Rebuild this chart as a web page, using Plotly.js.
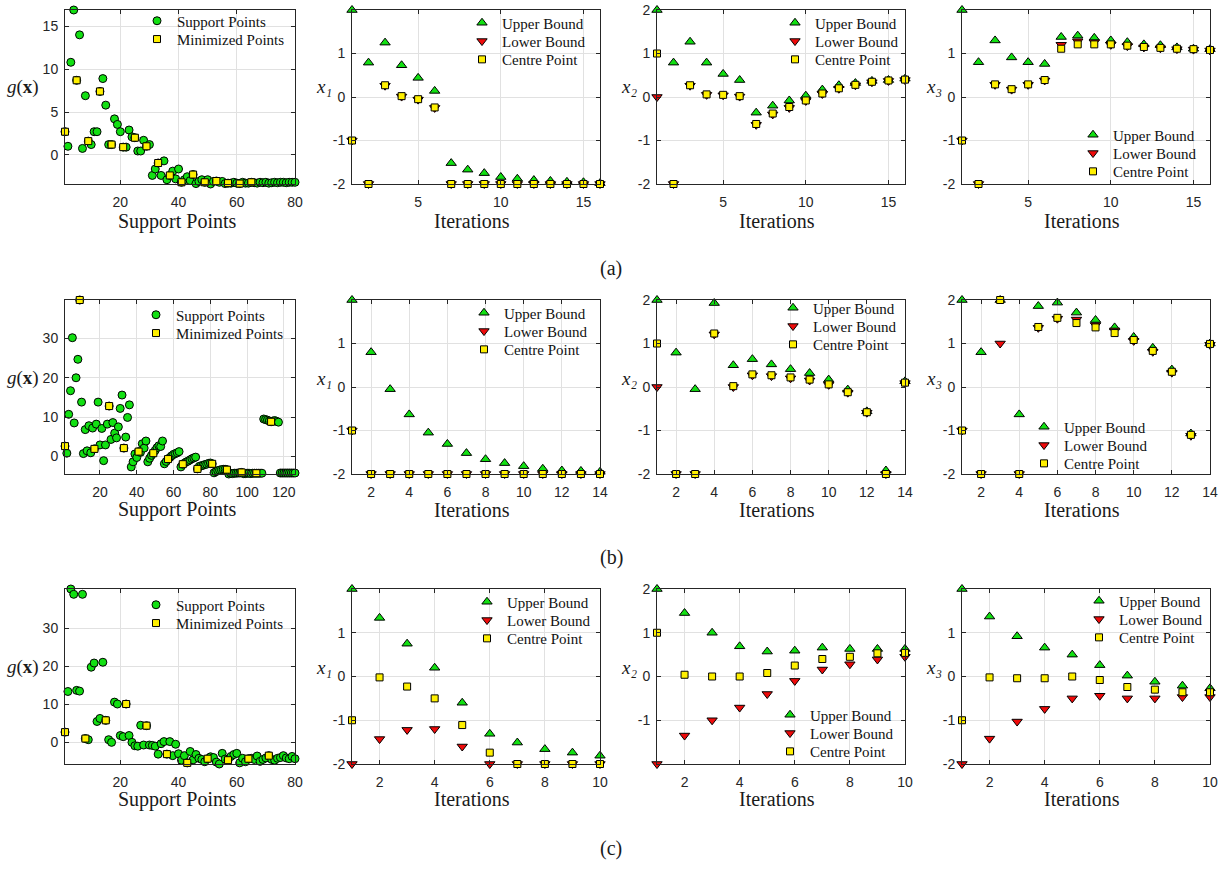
<!DOCTYPE html>
<html>
<head>
<meta charset="utf-8">
<script src="https://cdn.plot.ly/plotly-3.0.1.min.js"></script>
<style>
  html, body { margin: 0; padding: 0; background: #fff; }
  #chart { width: 1222px; height: 870px; }
</style>
</head>
<body>
<div id="chart"></div>
<script>
// ---------- (a) support points g(x) ----------
const supA = [
  2.7, 1.0, 10.8, 16.9, 8.7, 14.0, 0.75, 6.9, 1.6, 1.2,
  2.7, 2.7, 7.4, 8.9, 5.8, 1.2, 1.2, 4.2, 3.55, 2.7,
  0.9, 0.9, 2.9, 2.1, 2.0, 0.45, 0.45, 1.7, 1.0, 1.2,
  -2.4, -1.65, -0.95, -2.4, -0.7, -2.9, -2.4, -1.9, -2.8, -1.65,
  -3.2, -2.9, -2.55, -3.0, -2.3, -3.35, -3.1, -2.9, -3.2, -2.9,
  -3.4, -3.1, -3.05, -3.2, -3.1, -3.35, -3.3, -3.3, -3.2, -3.3,
  -3.35, -3.2, -3.3, -3.3, -3.2, -3.25, -3.3, -3.2, -3.25, -3.2,
  -3.3, -3.25, -3.2, -3.25, -3.2, -3.2, -3.25, -3.2, -3.2, -3.2
];
const minXA = [1, 5, 9, 13, 17, 21, 25, 29, 33, 37, 41, 45, 49, 53, 57, 61, 65];
const minYA = [2.7, 8.7, 1.6, 7.4, 1.2, 0.9, 2.0, 1.0, -0.95, -2.4, -3.2, -2.3, -3.2, -3.05, -3.3, -3.35, -3.2];

// ---------- (b) support points g(x) ----------
const supB = [
  2.6, 0.8, 10.7, 16.7, 30.2, 8.5, 20.0, 24.7, 39.8, 13.8,
  0.7, 6.8, 1.4, 7.8, 0.9, 7.2, 1.9, 8.2, 13.8, 2.9,
  7.1, -1.1, 2.9, 8.2, 12.8, 4.3, 8.6, 5.9, 4.7, 7.5,
  12.2, 15.6, 2.1, 4.9, 9.9, 13.1, -2.7, -1.4, 0.6, -0.3,
  1.2, 1.0, 3.2, 2.1, 3.9, -1.4, -0.5, 0.25, 0.8, 1.5,
  2.2, 2.7, 2.5, 3.9, -1.9, -1.3, -0.7, -0.3, 0.15, 0.5,
  0.7, 0.9, 1.2, -2.7, -2.0, -1.7, -1.4, -1.2, -0.9, -0.6,
  -0.4, -0.2, -3.2, -2.55, -2.4, -2.3, -2.1, -2.0, -1.8, -1.7,
  -1.9, -4.2, -3.9, -3.65, -3.5, -3.4, -3.3, -3.3, -3.4, -4.5,
  -4.3, -4.4, -4.3, -4.3, -4.25, -4.25, -4.1, -4.4, -4.4, -4.3,
  -4.3, -4.4, -4.3, -4.3, -4.3, -4.3, -4.3, -4.3, 9.5, 9.35,
  9.2, 9.0, 8.8, 9.0, 9.1, 8.9, 8.7, -4.25, -4.25, -4.25,
  -4.25, -4.25, -4.25, -4.25, -4.25, -4.25
];
const minXB = [1, 9, 17, 25, 33, 41, 49, 57, 65, 73, 81, 89, 97, 105, 113];
const minYB = [2.6, 39.8, 1.9, 12.8, 2.1, 1.2, 0.8, -0.7, -2.0, -3.2, -1.9, -3.4, -4.1, -4.3, 8.8];

// ---------- (c) support points g(x) ----------
const supC = [
  2.7, 13.4, 40.4, 39.0, 13.7, 13.5, 39.0, 1.0, 0.7, 19.8,
  20.9, 5.5, 6.3, 21.1, 5.8, 0.7, 0.0, 10.6, 10.1, 1.8,
  1.5, 10.1, 1.8, 0.0, -0.9, -1.0, 4.5, -0.7, 4.4, -0.7,
  -0.8, -1.0, -3.1, -0.35, 0.2, -3.1, 0.2, -3.5, -0.5, -3.0,
  -4.7, -3.5, -5.4, -2.4, -4.6, -3.2, -4.2, -4.5, -5.1, -4.3,
  -3.8, -4.0, -5.2, -5.7, -2.9, -4.4, -4.7, -3.7, -3.2, -2.9,
  -5.4, -4.2, -5.1, -4.3, -4.2, -4.5, -3.6, -5.0, -4.5, -4.1,
  -3.5, -4.5, -4.7, -4.2, -4.0, -3.5, -4.1, -4.3, -3.7, -4.3
];
const minXC = [1, 8, 15, 22, 29, 36, 43, 50, 57, 64, 71];
const minYC = [2.7, 1.0, 5.8, 10.1, 4.4, -3.1, -5.4, -4.3, -4.7, -4.3, -3.5];

// ---------- (a) bounds per iteration ----------
const aX1Upper  = [2.0, 0.79, 1.25, 0.73, 0.44, 0.14, -1.52, -1.67, -1.75, -1.84, -1.88, -1.91, -1.93, -1.95, -1.96, -1.98];
const aX1Lower  = [-1.0, -2.0, 0.26, 0.01, -0.06, -0.25, -2.0, -2.0, -2.0, -2.0, -2.0, -2.0, -2.0, -2.0, -2.0, -2.0];
const aX1Centre = [-1.0, -2.0, 0.27, 0.02, -0.05, -0.24, -2.0, -2.0, -2.0, -2.0, -2.0, -2.0, -2.0, -2.0, -2.0, -2.0];
const aX2Upper  = [2.0, 0.79, 1.27, 0.79, 0.53, 0.39, -0.36, -0.2, -0.08, 0.03, 0.17, 0.27, 0.32, 0.37, 0.39, 0.42];
const aX2Lower  = [0.0, -2.0, 0.26, 0.05, 0.04, 0.01, -0.64, -0.4, -0.25, -0.09, 0.07, 0.19, 0.27, 0.34, 0.37, 0.39];
const aX2Centre = [1.0, -2.0, 0.27, 0.06, 0.05, 0.02, -0.62, -0.38, -0.23, -0.08, 0.08, 0.2, 0.28, 0.35, 0.38, 0.4];
const aX3Upper  = [2.0, 0.8, 1.3, 0.91, 0.8, 0.76, 1.38, 1.41, 1.36, 1.3, 1.26, 1.21, 1.19, 1.14, 1.11, 1.1];
const aX3Lower  = [-1.0, -2.0, 0.28, 0.17, 0.28, 0.38, 1.2, 1.28, 1.26, 1.2, 1.17, 1.14, 1.12, 1.1, 1.09, 1.07];
const aX3Centre = [-1.0, -2.0, 0.29, 0.18, 0.29, 0.39, 1.11, 1.21, 1.21, 1.21, 1.18, 1.15, 1.13, 1.11, 1.1, 1.08];

// ---------- (b) bounds per iteration ----------
const bX1Upper  = [2.0, 0.8, -0.05, -0.63, -1.05, -1.31, -1.52, -1.66, -1.75, -1.82, -1.88, -1.92, -1.93, -1.95];
const bX1Lower  = [-1.0, -2.0, -2.0, -2.0, -2.0, -2.0, -2.0, -2.0, -2.0, -2.0, -2.0, -2.0, -2.0, -2.0];
const bX1Centre = [-1.0, -2.0, -2.0, -2.0, -2.0, -2.0, -2.0, -2.0, -2.0, -2.0, -2.0, -2.0, -2.0, -2.0];
const bX2Upper  = [2.0, 0.79, -0.05, 1.93, 0.5, 0.64, 0.52, 0.41, 0.32, 0.17, -0.06, -0.56, -1.92, 0.13];
const bX2Lower  = [0.0, -2.0, -2.0, 1.21, 0.0, 0.27, 0.25, 0.2, 0.15, 0.05, -0.13, -0.59, -2.0, 0.09];
const bX2Centre = [1.0, -2.0, -2.0, 1.23, 0.02, 0.29, 0.27, 0.22, 0.17, 0.06, -0.12, -0.58, -2.0, 0.1];
const bX3Upper  = [2.0, 0.8, 2.0, -0.63, 1.86, 1.94, 1.71, 1.54, 1.37, 1.15, 0.9, 0.4, -1.07, 1.0];
const bX3Lower  = [-1.0, -2.0, 1.0, -2.0, 1.36, 1.57, 1.55, 1.42, 1.3, 1.06, 0.81, 0.33, -1.12, 0.97];
const bX3Centre = [-1.0, -2.0, 2.0, -2.0, 1.38, 1.59, 1.47, 1.37, 1.24, 1.08, 0.83, 0.35, -1.1, 0.99];

// ---------- (c) bounds per iteration ----------
const cX1Upper  = [2.0, 1.34, 0.75, 0.2, -0.6, -1.31, -1.51, -1.66, -1.74, -1.81];
const cX1Lower  = [-2.0, -1.43, -1.22, -1.2, -1.6, -2.0, -2.0, -2.0, -2.0, -2.0];
const cX1Centre = [-1.0, -0.02, -0.23, -0.5, -1.11, -1.74, -2.0, -2.0, -2.0, -2.0];
const cX2Upper  = [2.0, 1.45, 1.0, 0.69, 0.57, 0.59, 0.66, 0.63, 0.63, 0.63];
const cX2Lower  = [-2.0, -1.35, -1.0, -0.71, -0.4, -0.1, 0.16, 0.28, 0.39, 0.45];
const cX2Centre = [1.0, 0.04, 0.0, 0.0, 0.08, 0.25, 0.4, 0.45, 0.53, 0.54];
const cX3Upper  = [2.0, 1.37, 0.92, 0.66, 0.5, 0.26, 0.02, -0.12, -0.21, -0.27];
const cX3Lower  = [-2.0, -1.42, -1.03, -0.74, -0.5, -0.44, -0.5, -0.5, -0.47, -0.47];
const cX3Centre = [-1.0, -0.02, -0.04, -0.04, 0.0, -0.08, -0.24, -0.3, -0.36, -0.36];

// ---------- tick labels ----------
const supXTicks = [[20, 40, 60, 80], [20, 40, 60, 80, 100, 120], [20, 40, 60, 80]];
const supYTicks = [[0, 5, 10, 15], [0, 10, 20, 30], [0, 10, 20, 30]];
const iterXTicks = [[5, 10, 15], [2, 4, 6, 8, 10, 12, 14], [2, 4, 6, 8, 10]];
const iterYTicks = [
  [[-2, -1, 0, 1], [-2, -1, 0, 1, 2], [-2, -1, 0, 1]],
  [[-2, -1, 0, 1], [-2, -1, 0, 1, 2], [-2, -1, 0, 1, 2]],
  [[-2, -1, 0, 1], [-1, 0, 1, 2], [-2, -1, 0, 1]]
];
const rowTags = ['(a)', '(b)', '(c)'];
const supNames = ['Support Points', 'Minimized Points'];
const boundNames = ['Upper Bound', 'Lower Bound', 'Centre Point'];
const varLabels = ['x₁', 'x₂', 'x₃'];

const supportSets = [supA, supB, supC];
const minSets = [[minXA, minYA], [minXB, minYB], [minXC, minYC]];
const boundSets = [
  [[aX1Upper, aX1Lower, aX1Centre], [aX2Upper, aX2Lower, aX2Centre], [aX3Upper, aX3Lower, aX3Centre]],
  [[bX1Upper, bX1Lower, bX1Centre], [bX2Upper, bX2Lower, bX2Centre], [bX3Upper, bX3Lower, bX3Centre]],
  [[cX1Upper, cX1Lower, cX1Centre], [cX2Upper, cX2Lower, cX2Centre], [cX3Upper, cX3Lower, cX3Centre]]
];

// ---------- layout geometry (pixels) ----------
const W = 1222, H = 870;
const colX = [[65, 295], [352, 600], [657, 905], [962, 1210]];
const rowY = [[10, 184], [300, 474], [589, 764]];
const tagY = [268, 557, 848];
const xTitleY = [221, 510, 799];
const yTitleY = [87, 378, 667];
const xTitleX = [177, 472, 777, 1082];
const yTitleX = [23, 324, 629, 934];
// legend marker position of the first entry in each panel
const legendAt = [
  [[158, 21], [483, 23], [796, 23], [1094, 135]],
  [[157, 315], [485, 313], [794, 308], [1045, 427]],
  [[157, 605], [488, 602], [791, 715], [1100, 601]]
];
const LEG_STEP = 18.3;
const LEG_DX = 21;

const GREEN = '#12e012', RED = '#ee0a0a', YELLOW = '#fff000';
const SERIF = 'Liberation Serif, DejaVu Serif, serif';
const SANS = 'Liberation Sans, Arial, sans-serif';
const AXIS_COLOR = '#262626';

const px = v => v / W;
const py = v => 1 - v / H;

const traces = [];
const layout = {
  width: W, height: H,
  margin: { l: 0, r: 0, t: 0, b: 0 },
  paper_bgcolor: '#ffffff',
  plot_bgcolor: '#ffffff',
  showlegend: true,
  annotations: []
};

let legendCount = 0;
function addLegend(mx, my) {
  legendCount += 1;
  const name = legendCount === 1 ? 'legend' : 'legend' + legendCount;
  layout[name] = {
    x: px(mx - LEG_DX), xanchor: 'left',
    y: py(my), yanchor: 'middle',
    bgcolor: 'rgba(0,0,0,0)', borderwidth: 0,
    font: { family: SERIF, size: 15, color: '#111111' },
    itemclick: false, itemdoubleclick: false
  };
  return name;
}

function axisBase(domain, range, tickvals, standoff) {
  return {
    domain: domain, range: range, tickvals: tickvals,
    ticktext: tickvals.map(String),
    ticks: 'inside', ticklen: 4, tickwidth: 1, tickcolor: AXIS_COLOR,
    ticklabelstandoff: standoff,
    showline: true, mirror: 'ticks', linecolor: AXIS_COLOR, linewidth: 1,
    showgrid: true, gridcolor: '#e1e1e1', gridwidth: 1,
    zeroline: false, fixedrange: true,
    tickfont: { family: SANS, size: 14, color: AXIS_COLOR }
  };
}

function annot(text, x, y, size, style) {
  layout.annotations.push({
    text: text, xref: 'paper', yref: 'paper',
    x: px(x), y: py(y), xanchor: 'center', yanchor: 'middle',
    showarrow: false,
    font: { family: SERIF, size: size, color: '#1a1a1a', style: style || 'normal' }
  });
}

function markerStyle(symbol, size, color) {
  return { symbol: symbol, size: size, color: color, line: { color: '#000000', width: 1 } };
}

let k = 0;
for (let r = 0; r < 3; r++) {
  for (let c = 0; c < 4; c++) {
    k += 1;
    const suffix = k === 1 ? '' : String(k);
    const xa = 'x' + suffix, ya = 'y' + suffix;
    const xDom = [px(colX[c][0]), px(colX[c][1])];
    const yDom = [py(rowY[r][1]), py(rowY[r][0])];
    const [lx, ly] = legendAt[r][c];

    if (c === 0) {
      const sup = supportSets[r];
      const idx = sup.map((_, i) => i + 1);
      const [mX, mY] = minSets[r];
      traces.push({
        type: 'scatter', mode: 'markers', name: supNames[0],
        x: idx, y: sup, xaxis: xa, yaxis: ya, cliponaxis: false,
        marker: markerStyle('circle', 8, GREEN),
        legend: addLegend(lx, ly), hoverinfo: 'x+y'
      });
      traces.push({
        type: 'scatter', mode: 'markers', name: supNames[1],
        x: mX, y: mY, xaxis: xa, yaxis: ya, cliponaxis: false,
        marker: markerStyle('square', 7, YELLOW),
        legend: addLegend(lx, ly + LEG_STEP), hoverinfo: 'x+y'
      });
      layout['xaxis' + suffix] = Object.assign(axisBase(xDom, [1, sup.length], supXTicks[r], 5), { anchor: ya });
      layout['yaxis' + suffix] = Object.assign(
        axisBase(yDom, [Math.min(...sup), Math.max(...sup)], supYTicks[r], 3), { anchor: xa });
      annot('Support Points', xTitleX[c], xTitleY[r], 20);
      annot('<i>g</i>(<b>x</b>)', yTitleX[c], yTitleY[r], 19);
    } else {
      const [up, lo, ce] = boundSets[r][c - 1];
      const it = up.map((_, i) => i + 1);
      const specs = [
        [up, 'triangle-up', 9, GREEN],
        [lo, 'triangle-down', 9, RED],
        [ce, 'square', 7, YELLOW]
      ];
      specs.forEach(([vals, sym, size, col], j) => {
        traces.push({
          type: 'scatter', mode: 'markers', name: boundNames[j],
          x: it, y: vals, xaxis: xa, yaxis: ya, cliponaxis: false,
          marker: markerStyle(sym, size, col),
          legend: addLegend(lx, ly + j * LEG_STEP), hoverinfo: 'x+y'
        });
      });
      layout['xaxis' + suffix] = Object.assign(axisBase(xDom, [1, up.length], iterXTicks[r], 5), { anchor: ya });
      layout['yaxis' + suffix] = Object.assign(axisBase(yDom, [-2, 2], iterYTicks[r][c - 1], 3), { anchor: xa });
      annot('Iterations', xTitleX[c], xTitleY[r], 20);
      annot(varLabels[c - 1], yTitleX[c], yTitleY[r], 19, 'italic');
    }
  }
  annot(rowTags[r], 611, tagY[r], 20);
}

Plotly.newPlot('chart', traces, layout, { displayModeBar: false, staticPlot: true });
</script>
</body>
</html>
